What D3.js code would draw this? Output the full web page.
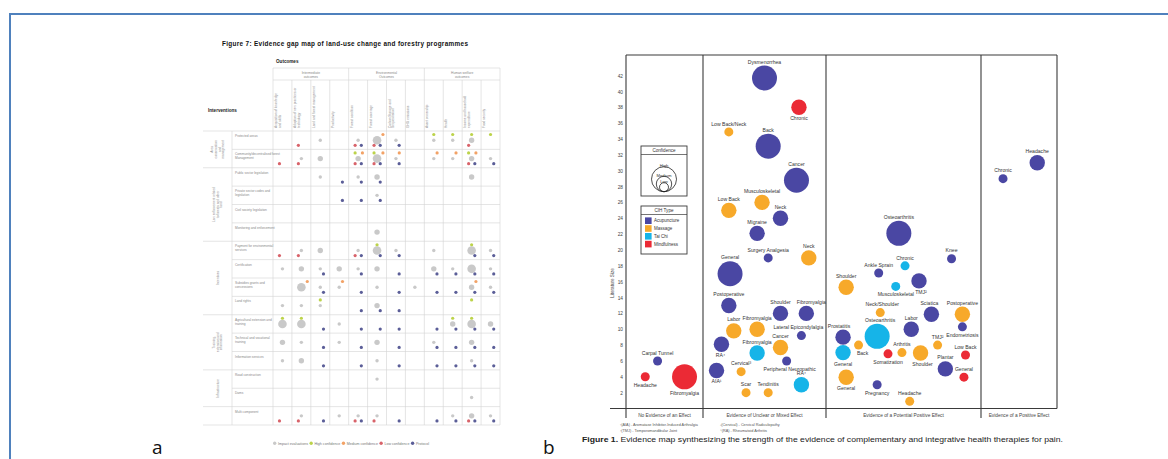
<!DOCTYPE html>
<html>
<head>
<meta charset="utf-8">
<script src="https://cdn.jsdelivr.net/npm/d3@7"></script>
<style>
  body { margin: 0; background: #fff; }
  svg { display: block; font-family: "Liberation Sans", Arial, sans-serif; }
</style>
</head>
<body>
<svg id="fig" width="1168" height="459"></svg>
<script>
// ---------- panel b data ----------
const cihTypes = ['Acupuncture', 'Massage', 'Tai Chi', 'Mindfulness'];
const cihColors = ['#4a47a3', '#f7a92a', '#16b4e8', '#eb2a35'];
const confLevels = ['High', 'Medium', 'Low'];
const effectCats = ['No Evidence of an Effect', 'Evidence of Unclear or Mixed Effect',
  'Evidence of a Potential Positive Effect', 'Evidence of a Positive Effect'];
const sizeTicks = [2, 4, 6, 8, 10, 12, 14, 16, 18, 20, 22, 24, 26, 28, 30, 32, 34, 36, 38, 40, 42];

// [condition, therapy, confidence, effect position (0-4), literature size]
const studies = [
  ['Carpal Tunnel', 'Acupuncture', 'Low', 0.41, 6],
  ['Headache', 'Mindfulness', 'Low', 0.25, 4],
  ['Fibromyalgia', 'Mindfulness', 'High', 0.76, 4],

  ['Dysmenorrhea', 'Acupuncture', 'High', 1.50, 41.7],
  ['Chronic', 'Mindfulness', 'Medium', 1.78, 38],
  ['Low Back/Neck', 'Massage', 'Low', 1.21, 34.9],
  ['Back', 'Acupuncture', 'High', 1.53, 33.1],
  ['Cancer', 'Acupuncture', 'High', 1.76, 28.8],
  ['Musculoskeletal', 'Massage', 'Medium', 1.48, 26],
  ['Low Back', 'Massage', 'Medium', 1.21, 25],
  ['Neck', 'Acupuncture', 'Medium', 1.63, 24],
  ['Migraine', 'Acupuncture', 'Medium', 1.44, 22.1],
  ['Surgery Analgesia', 'Acupuncture', 'Low', 1.53, 19],
  ['Neck', 'Massage', 'Medium', 1.86, 19],
  ['General', 'Acupuncture', 'High', 1.22, 17],
  ['Postoperative', 'Acupuncture', 'Medium', 1.21, 13],
  ['Shoulder', 'Acupuncture', 'Medium', 1.63, 12],
  ['Fibromyalgia', 'Acupuncture', 'Medium', 1.84, 12],
  ['Labor', 'Massage', 'Medium', 1.25, 9.8],
  ['Fibromyalgia', 'Massage', 'Medium', 1.44, 10],
  ['Lateral Epicondylalgia', 'Acupuncture', 'Low', 1.80, 9.2],
  ['RA⁴', 'Acupuncture', 'Medium', 1.15, 8.1],
  ['Fibromyalgia', 'Tai Chi', 'Medium', 1.44, 7],
  ['Cancer', 'Massage', 'Medium', 1.63, 7.7],
  ['Peripheral Neuropathic', 'Acupuncture', 'Low', 1.68, 6],
  ['Cervical³', 'Massage', 'Low', 1.31, 4.65],
  ['AIA¹', 'Acupuncture', 'Medium', 1.11, 4.8],
  ['RA⁴', 'Tai Chi', 'Medium', 1.80, 3],
  ['Scar', 'Massage', 'Low', 1.35, 2],
  ['Tendinitis', 'Massage', 'Low', 1.53, 2],

  ['Osteoarthritis', 'Acupuncture', 'High', 2.47, 22.1],
  ['Knee', 'Acupuncture', 'Low', 2.81, 18.9],
  ['Chronic', 'Tai Chi', 'Low', 2.51, 18],
  ['Ankle Sprain', 'Acupuncture', 'Low', 2.34, 17.1],
  ['TMJ²', 'Acupuncture', 'Medium', 2.60, 16.1],
  ['Musculoskeletal', 'Tai Chi', 'Low', 2.45, 15.4],
  ['Shoulder', 'Massage', 'Medium', 2.13, 15.3],
  ['Neck/Shoulder', 'Massage', 'Low', 2.35, 12.1],
  ['Sciatica', 'Acupuncture', 'Medium', 2.68, 11.9],
  ['Postoperative', 'Massage', 'Medium', 2.88, 11.9],
  ['Labor', 'Acupuncture', 'Medium', 2.55, 10],
  ['Endometriosis', 'Acupuncture', 'Low', 2.88, 10.3],
  ['Osteoarthritis', 'Tai Chi', 'High', 2.33, 9.1],
  ['Prostatitis', 'Acupuncture', 'Medium', 2.11, 9],
  ['TMJ²', 'Massage', 'Low', 2.72, 8],
  ['Back', 'Massage', 'Low', 2.21, 8],
  ['General', 'Tai Chi', 'Medium', 2.11, 7.05],
  ['Somatization', 'Mindfulness', 'Low', 2.40, 6.9],
  ['Arthritis', 'Massage', 'Low', 2.49, 7.05],
  ['Shoulder', 'Massage', 'Medium', 2.61, 7],
  ['Low Back', 'Mindfulness', 'Low', 2.90, 6.75],
  ['Plantar', 'Acupuncture', 'Medium', 2.77, 5],
  ['General', 'Mindfulness', 'Low', 2.89, 3.95],
  ['General', 'Massage', 'Medium', 2.13, 3.95],
  ['Pregnancy', 'Acupuncture', 'Low', 2.33, 3],
  ['Headache', 'Massage', 'Low', 2.54, 0.9],

  ['Chronic', 'Acupuncture', 'Low', 3.29, 29],
  ['Headache', 'Acupuncture', 'Medium', 3.74, 31]
];

const footnotes = [
  ['¹(AIA) - Aromatase Inhibitor-Induced Arthralgia', '²(TMJ) - Temporomandibular Joint'],
  ['³(Cervical) - Cervical Radiculopathy', '⁴(RA) - Rheumatoid Arthritis']
];

// ---------- panel a data ----------
const gapColGroups = [['Intermediate', 'outcomes'], ['Environmental', 'Outcomes'], ['Human welfare', 'outcomes']];
const gapCols = ['Acquisition of knowledge|and skills', 'Adoption of new practices or|technology', 'Land and forest management',
  'Productivity', 'Forest condition', 'Forest coverage', 'Carbon Storage and|Sequestration', 'GHG emissions',
  'Asset ownership', 'Health', 'Income and household|expenditure', 'Food security'];
const gapRowGroups = [['Area', 'conservation', 'and', 'management', 2], ['Law enforcement related', 'to forests and other', 'land', 4],
  ['Incentives', 4], ['Training,', 'extension and', 'information', 3], ['Infrastructure', 2], [1]];
const gapRows = ['Protected areas', 'Community/decentralised forest|Management', 'Public sector legislation',
  'Private sector codes and|legislation', 'Civil society legislation', 'Monitoring and enforcement',
  'Payment for environmental|services', 'Certification', 'Subsidies grants and|concessions', 'Land rights',
  'Agricultural extension and|training', 'Technical and vocational|training', 'Information services',
  'Road construction', 'Dams', 'Multi component'];
// digit = size of impact-evaluation bubble, h/m/l = high/medium/low confidence review, p = protocol
const gapCells = [
  ['', 'l', '1', '', '1lp', '3mlp', '1p', '', 'h1', 'h1', 'h2l', 'h'],
  ['l', '1l', '2', '', '2hmlp', '3hmlp', '1mp', '', '1m', '1m', '2hmlp', '1p'],
  ['', '', '1', 'p', '1p', '2p', '', '', '', '', '2', ''],
  ['', '', '', 'p', 'p', '1p', '', '', '', '', '', ''],
  ['', '', '', '', '', '', '', '', '', '', '', ''],
  ['', '', '', '', '', '2', '', '', '', '', '', ''],
  ['l', '1l', '2', '', '1lp', 'h3p', '1p', '', '1', '', 'h3p', '1p'],
  ['1', '2', '1p', '2', '1p', '2', 'p', '', '2p', '1p', '3p', '1p'],
  ['', 'm3', '1p', 'm1', 'p', '1', 'p', '1', 'p', 'p', 'm2p', '1p'],
  ['1', '1', 'h1', '', 'p', '2p', 'p', '', '', '', 'h', ''],
  ['h3', 'h3', 'p', '1', 'p', 'p', 'p', '', 'p', 'h2p', 'h3p', '2p'],
  ['2', '1', 'p', '1', 'p', '2', 'p', '', '1p', 'p', '2p', 'p'],
  ['1', '2', 'p', '', 'p', '1', 'p', '', 'p', 'p', '1p', 'p'],
  ['', '', '', '', '', '1', '', '', '', '', '', ''],
  ['', '', '', '', '', '', '', '', '', '', '1', ''],
  ['l', '1l', 'p', '1', '1lp', '1l', 'p', '', 'p', '1p', '2lp', '1p']
];
const gapLegend = ['Impact evaluations', 'High confidence', 'Medium confidence', 'Low confidence', 'Protocol'];
const gapColors = { g: '#c9c9c9', h: '#bcd34a', m: '#f2a266', l: '#d8636a', p: '#5b5e98' };

const svg = d3.select('#fig');

// outer frame
svg.append('rect').attr('x', 10).attr('y', 14).attr('width', 1170).attr('height', 470)
  .attr('fill', 'none').attr('stroke', '#4f81bd').attr('stroke-width', 2);

svg.append('text').attr('x', 152).attr('y', 454).attr('font-family', 'Open Sans, sans-serif')
  .attr('font-size', 19).attr('fill', '#111').text('a');
svg.append('text').attr('x', 543).attr('y', 454).attr('font-family', 'Open Sans, sans-serif')
  .attr('font-size', 19).attr('fill', '#111').text('b');

// ================= panel a =================
(function drawGapMap() {
  const g = svg.append('g');
  const L = 203, G = 232, N = 273, R = 500, T0 = 68, T1 = 80, T2 = 131, B = 425;
  const gridC = '#d4d4d4', txtC = '#888';

  g.append('text').attr('x', 222).attr('y', 46).attr('font-weight', 'bold').attr('font-size', 6.4)
    .attr('textLength', 246).attr('fill', '#111')
    .text('Figure 7: Evidence gap map of land-use change and forestry programmes');
  g.append('text').attr('x', 276).attr('y', 63).attr('font-weight', 'bold').attr('font-size', 4.6)
    .attr('fill', '#222').text('Outcomes');
  g.append('text').attr('x', 208).attr('y', 112).attr('font-weight', 'bold').attr('font-size', 4.6)
    .attr('fill', '#222').text('Interventions');

  const x = d3.scaleBand().domain(d3.range(gapCols.length)).range([N, R]);
  const y = d3.scaleBand().domain(d3.range(gapRows.length)).range([T2, B]);

  // grid
  g.append('line').attr('x1', N).attr('x2', R).attr('y1', T0).attr('y2', T0).attr('stroke', gridC).attr('stroke-width', 0.6);
  g.append('line').attr('x1', N).attr('x2', R).attr('y1', T1).attr('y2', T1).attr('stroke', gridC).attr('stroke-width', 0.6);
  for (let c = 0; c <= gapCols.length; c++) {
    const xx = c < gapCols.length ? x(c) : R;
    g.append('line').attr('x1', xx).attr('x2', xx).attr('y1', c % 4 === 0 ? T0 : T1).attr('y2', B)
      .attr('stroke', gridC).attr('stroke-width', 0.6);
  }
  g.append('line').attr('x1', G).attr('x2', G).attr('y1', T2).attr('y2', B).attr('stroke', gridC).attr('stroke-width', 0.6);

  let r0 = 0;
  const groupStarts = new Set([0]);
  gapRowGroups.forEach(gr => {
    const n = gr[gr.length - 1], lines = gr.slice(0, -1);
    const cy = y(r0) + n * y.bandwidth() / 2;
    const tg = g.append('text').attr('transform', `translate(${(L + G) / 2},${cy}) rotate(-90)`)
      .attr('text-anchor', 'middle').attr('font-size', 3.2).attr('fill', txtC);
    lines.forEach((s, i) => tg.append('tspan').attr('x', 0).attr('y', (i - (lines.length - 1) / 2) * 3.8 + 1.1).text(s));
    r0 += n;
    groupStarts.add(r0);
  });
  for (let r = 0; r <= gapRows.length; r++) {
    const yy = r < gapRows.length ? y(r) : B;
    g.append('line').attr('x1', groupStarts.has(r) ? L : G).attr('x2', R).attr('y1', yy).attr('y2', yy)
      .attr('stroke', gridC).attr('stroke-width', 0.6);
  }

  // headers
  gapColGroups.forEach((lines, i) => {
    const cx = x(i * 4) + x.bandwidth() * 2;
    lines.forEach((s, j) => g.append('text').attr('x', cx).attr('y', 74 + j * 4).attr('text-anchor', 'middle')
      .attr('font-size', 3.3).attr('fill', txtC).text(s));
  });
  gapCols.forEach((lab, i) => {
    const tg = g.append('text').attr('transform', `translate(${x(i) + 4},${T2 - 3}) rotate(-90)`)
      .attr('font-size', 3.2).attr('fill', txtC);
    lab.split('|').forEach((s, j) => tg.append('tspan').attr('x', 0).attr('y', j * 3.8).text(s));
  });
  gapRows.forEach((lab, i) => {
    lab.split('|').forEach((s, j) => g.append('text').attr('x', G + 3).attr('y', y(i) + 6 + j * 3.8)
      .attr('font-size', 3.2).attr('fill', txtC).text(s));
  });

  // cells
  const gr = { 1: 1.7, 2: 2.7, 3: 4.3 };
  const dot = (cx, cy, r, c) => g.append('circle').attr('cx', cx).attr('cy', cy).attr('r', r).attr('fill', gapColors[c]);
  gapCells.forEach((row, ri) => row.forEach((code, ci) => {
    if (!code) return;
    const cx = x(ci) + x.bandwidth() / 2, top = y(ri);
    const size = +(code.match(/\d/) || [0])[0];
    if (size) dot(cx, top + 9.2, gr[size], 'g');
    const hasM = code.includes('m');
    if (code.includes('h')) dot(hasM ? cx - 3 : cx, top + 3.5, 1.6, 'h');
    if (hasM) dot(cx + Math.max(3.2, (gr[size] || 0) + 1.6), top + 3.5, 1.6, 'm');
    if (code.includes('l')) dot(cx - 3, top + 14.3, 1.6, 'l');
    if (code.includes('p')) dot(cx + 3.2, top + 14.3, 1.6, 'p');
  }));

  // legend
  let lx = 273;
  const keys = ['g', 'h', 'm', 'l', 'p'];
  gapLegend.forEach((s, i) => {
    dot(lx + 1.7, 443.2, 1.7, keys[i]);
    const t = g.append('text').attr('x', lx + 5).attr('y', 444.6).attr('font-size', 3.6).attr('fill', '#777').text(s);
    lx += 5 + t.node().getComputedTextLength() + 1.5;
  });
})();

// ================= panel b =================
(function drawEvidenceMap() {
  const g = svg.append('g');
  const top = 55, bottom = 418;
  const x = d3.scaleLinear().domain([0, 1, 2, 3, 4]).range([626, 703, 826, 981, 1057]);
  const y = d3.scaleLinear().domain([0, 44.6]).range([408.5, top]);
  const color = d3.scaleOrdinal().domain(cihTypes).range(cihColors);
  const rad = d3.scaleOrdinal().domain(confLevels).range([12.5, 7.7, 4.5]);
  const lineC = '#3a3a3a';

  // frame
  g.append('line').attr('x1', x(0)).attr('x2', x(4)).attr('y1', top).attr('y2', top).attr('stroke', lineC).attr('stroke-width', 1.1);
  g.append('line').attr('x1', 610).attr('x2', x(4)).attr('y1', y(0)).attr('y2', y(0)).attr('stroke', lineC).attr('stroke-width', 1.1);
  [0, 1, 2, 3, 4].forEach(v => g.append('line').attr('x1', x(v)).attr('x2', x(v)).attr('y1', top)
    .attr('y2', v === 4 ? y(0) : bottom).attr('stroke', lineC).attr('stroke-width', 1.1));

  // y axis
  const ax = g.append('g').attr('transform', `translate(${x(0)},0)`)
    .call(d3.axisLeft(y).tickValues(sizeTicks).tickSize(0).tickPadding(3));
  ax.select('.domain').remove();
  ax.selectAll('text').attr('font-size', 4.8).attr('fill', '#444').attr('font-family', 'Liberation Sans, Arial, sans-serif');
  g.append('text').attr('transform', 'translate(614,283) rotate(-90)').attr('text-anchor', 'middle')
    .attr('font-size', 4.6).attr('fill', '#444').text('Literature Size');

  // category labels
  effectCats.forEach((s, i) => g.append('text').attr('x', (x(i) + x(i + 1)) / 2).attr('y', 417.3)
    .attr('text-anchor', 'middle').attr('font-size', 4.8).attr('fill', '#444').text(s));

  // bubbles
  const below = new Set(['Headache|Mindfulness|4', 'Fibromyalgia|Mindfulness|4', 'Chronic|Mindfulness|38',
    'RA⁴|Acupuncture|8.1', 'Peripheral Neuropathic|Acupuncture|6', 'AIA¹|Acupuncture|4.8', 'TMJ²|Acupuncture|16.1',
    'Musculoskeletal|Tai Chi|15.4', 'Endometriosis|Acupuncture|10.3', 'Back|Massage|8', 'General|Tai Chi|7.05',
    'Somatization|Mindfulness|6.9', 'Shoulder|Massage|7', 'General|Massage|3.95', 'Pregnancy|Acupuncture|3']);
  const shift = { 'Fibromyalgia|Acupuncture|12': 5, 'Lateral Epicondylalgia|Acupuncture|9.2': -3,
    'Osteoarthritis|Tai Chi|9.1': 3, 'Prostatitis|Acupuncture|9': -4, 'Back|Massage|8': 4,
    'Neck/Shoulder|Massage|12.1': 2, 'Sciatica|Acupuncture|11.9': -2, 'RA⁴|Acupuncture|8.1': -1,
    'Peripheral Neuropathic|Acupuncture|6': 3, 'Shoulder|Massage|7': 2, 'TMJ²|Acupuncture|16.1': 2 };

  const data = studies.map(d => ({ name: d[0], type: d[1], conf: d[2], pos: d[3], size: d[4], key: `${d[0]}|${d[1]}|${d[4]}` }));
  g.selectAll('circle.bub').data(data).enter().append('circle').attr('class', 'bub')
    .attr('cx', d => x(d.pos)).attr('cy', d => y(d.size)).attr('r', d => rad(d.conf))
    .attr('fill', d => color(d.type));
  g.selectAll('text.lab').data(data).enter().append('text').attr('class', 'lab')
    .attr('x', d => x(d.pos) + (shift[d.key] || 0))
    .attr('y', d => below.has(d.key) ? y(d.size) + rad(d.conf) + 5.3 : y(d.size) - rad(d.conf) - 1.8)
    .attr('text-anchor', 'middle').attr('font-size', 5.1).attr('fill', '#333').text(d => d.name);

  // confidence legend
  const lx0 = 641, lx1 = 687, lcx = (lx0 + lx1) / 2;
  g.append('rect').attr('x', lx0).attr('y', 146).attr('width', lx1 - lx0).attr('height', 50)
    .attr('fill', '#fff').attr('stroke', lineC).attr('stroke-width', 0.9);
  g.append('line').attr('x1', lx0).attr('x2', lx1).attr('y1', 154.5).attr('y2', 154.5).attr('stroke', lineC).attr('stroke-width', 0.7);
  g.append('text').attr('x', lcx).attr('y', 152).attr('text-anchor', 'middle').attr('font-size', 4.6).attr('fill', '#333').text('Confidence');
  const cb = 191.7;
  confLevels.forEach(c => {
    g.append('circle').attr('cx', lcx).attr('cy', cb - rad(c)).attr('r', rad(c))
      .attr('fill', 'none').attr('stroke', '#222').attr('stroke-width', 0.8);
    g.append('text').attr('x', lcx).attr('y', cb - 2 * rad(c) + 0.3).attr('text-anchor', 'middle')
      .attr('font-size', 4.2).attr('fill', '#333').text(c);
  });

  // therapy legend
  g.append('rect').attr('x', lx0).attr('y', 206).attr('width', lx1 - lx0).attr('height', 48)
    .attr('fill', '#fff').attr('stroke', lineC).attr('stroke-width', 0.9);
  g.append('line').attr('x1', lx0).attr('x2', lx1).attr('y1', 214.5).attr('y2', 214.5).attr('stroke', lineC).attr('stroke-width', 0.7);
  g.append('text').attr('x', lcx).attr('y', 212.3).attr('text-anchor', 'middle').attr('font-size', 4.6).attr('fill', '#333').text('CIH Type');
  cihTypes.forEach((t, i) => {
    const cy = 220.7 + i * 7.8;
    g.append('rect').attr('x', 645).attr('y', cy - 3.3).attr('width', 6.6).attr('height', 6.6).attr('fill', color(t));
    g.append('text').attr('x', 654).attr('y', cy + 1.6).attr('font-size', 4.5).attr('fill', '#333').text(t);
  });

  // footnotes
  footnotes.forEach((col, i) => col.forEach((s, j) => g.append('text').attr('x', i ? 720 : 620).attr('y', 425.5 + j * 6)
    .attr('font-size', 3.8).attr('fill', '#555').text(s)));

  // caption
  const cap = g.append('text').attr('x', 582).attr('y', 442).attr('font-size', 7.3).attr('fill', '#222')
    .attr('textLength', 481).attr('lengthAdjust', 'spacingAndGlyphs');
  cap.append('tspan').attr('font-weight', 'bold').text('Figure 1.');
  cap.append('tspan').text(' Evidence map synthesizing the strength of the evidence of complementary and integrative health therapies for pain.');
})();
</script>
</body>
</html>
